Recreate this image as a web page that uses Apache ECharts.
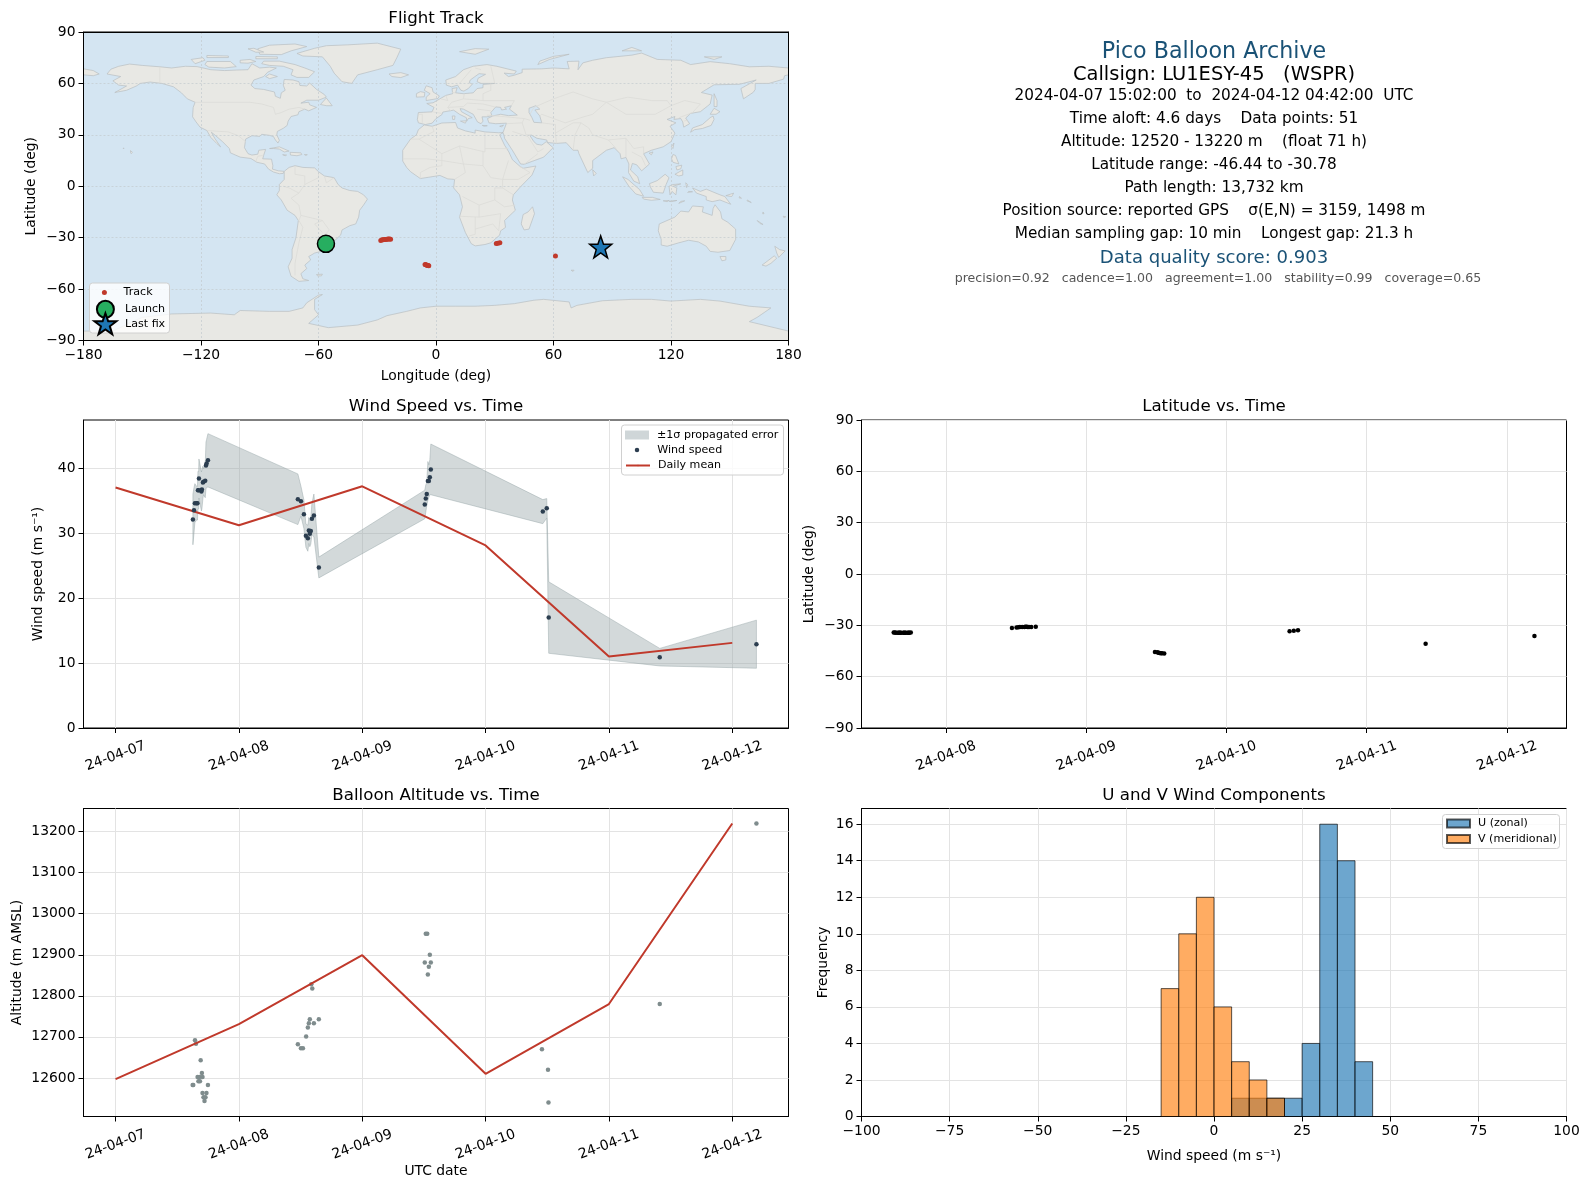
<!DOCTYPE html>
<html><head><meta charset="utf-8">
<style>html,body{margin:0;padding:0;background:#fff}#c{width:1589px;height:1189px}</style>
<script src="https://cdn.jsdelivr.net/npm/echarts@6/dist/echarts.min.js"></script>
</head><body><div id="c"></div>
<script>
// ---------- chart data (days since 2024-04-07 00:00 UTC) ----------
const dateLabels = {0:'24-04-07',1:'24-04-08',2:'24-04-09',3:'24-04-10',4:'24-04-11',5:'24-04-12'};
const dailyDays = [0,1,2,3,4,5];
const dailyWind = [37.0,31.2,37.2,28.1,11.0,13.1];
const dailyAlt = [12597,12731,12899,12610,12780,13220];

const windT = [.627,.636,.643,.656,.664,.668,.674,.676,.696,.700,.708,.713,.727,.733,.738,.749,
  1.478,1.503,1.527,1.543,1.559,1.567,1.575,1.583,1.592,1.608,1.648,
  2.507,2.515,2.523,2.532,2.540,2.548,2.556,3.464,3.496,3.512,4.412,5.196];
const windV = [32.1,33.5,34.6,34.6,34.6,36.6,36.6,38.4,36.4,36.7,37.8,37.9,38.05,40.4,40.7,41.2,
  35.2,34.9,32.9,29.6,29.2,30.4,29.9,30.3,32.2,32.7,24.7,
  34.4,35.3,36.0,38.0,38.0,38.6,39.8,33.3,33.8,17.0,10.9,12.9];
const windSigma = [3.9,3.5,3.0,2.6,2.6,2.9,2.9,3.0,3.0,3.0,2.5,2.0,2.6,3.6,3.7,4.1,
  3.9,2.3,2.2,1.8,2.0,2.0,2.0,2.0,2.4,3.3,1.6,
  2.2,2.1,1.8,3.0,2.5,2.7,3.9,1.85,1.5,5.5,1.35,3.7];

const altT = [.625,.630,.644,.652,.665,.672,.680,.684,.690,.700,.705,.705,.713,.721,.729,.737,.749,
  1.478,1.503,1.519,1.545,1.559,1.567,1.575,1.587,1.595,1.608,1.648,
  2.507,2.515,2.527,2.532,2.540,2.548,2.556,3.457,3.506,3.510,4.412,5.196];
const altV = [12583,12583,12692,12683,12602,12592,12602,12592,12643,12612,12602,12563,12553,12544,12553,12563,12583,
  12682,12672,12672,12701,12723,12733,12743,12828,12818,12733,12743,
  12881,12951,12951,12852,12871,12900,12881,12670,12620,12540,12780,13220];

const latT = [.627,.636,.643,.656,.664,.668,.674,.680,.696,.700,.708,.713,.727,.733,.738,.749,
  1.470,1.503,1.515,1.527,1.543,1.559,1.567,1.575,1.583,1.592,1.608,1.640,
  2.490,2.507,2.515,2.523,2.532,2.540,2.556,3.450,3.480,3.510,4.420,5.196];
const latV = [-34.2,-34.2,-34.3,-34.3,-34.3,-34.3,-34.3,-34.3,-34.3,-34.3,-34.3,-34.3,-34.3,-34.3,-34.3,-34.2,
  -31.5,-31.2,-31.1,-31.0,-31.0,-31.0,-30.9,-30.9,-31.0,-31.0,-31.0,-30.9,
  -45.6,-45.8,-46.0,-46.1,-46.3,-46.3,-46.44,-33.4,-33.2,-32.9,-40.7,-36.2];

const trackLon = [-54.0,-53.6,-53.2,-52.9, -28.2,-27.5,-27.0,-26.3,-25.6,-25.0,-24.4,-23.8,-23.2,
  -5.6,-5.2,-4.8,-4.4,-4.0,-3.7, 30.8,31.6,32.6, 61.0];
const trackLat = [-34.0,-34.2,-34.4,-34.5, -31.6,-31.2,-31.2,-31.0,-31.0,-30.9,-30.8,-30.8,-30.9,
  -45.6,-45.8,-46.0,-46.2,-46.3,-46.44, -33.4,-33.2,-32.9, -40.7];
const launchPoint = [-56.2,-33.6];
const lastFixPoint = [84.1,-35.4];

const histEdgesU = [5,10,15,20,25,30,35,40];
const histCountsU = [1,1,1,1,4,16,14,3];
const histEdgesV = [-15,-10,-5,0,5,10,15];
const histCountsV = [7,10,12,6,3,2,1];
const histBinWidth = 5;

const infoTitle = 'Pico Balloon Archive';
const infoCall = 'Callsign: LU1ESY-45   (WSPR)';
const infoLines = ['2024-04-07 15:02:00  to  2024-04-12 04:42:00  UTC',
 'Time aloft: 4.6 days    Data points: 51',
 'Altitude: 12520 - 13220 m    (float 71 h)',
 'Latitude range: -46.44 to -30.78',
 'Path length: 13,732 km',
 'Position source: reported GPS    σ(E,N) = 3159, 1498 m',
 'Median sampling gap: 10 min    Longest gap: 21.3 h'];
const infoScore = 'Data quality score: 0.903';
const infoSub = 'precision=0.92   cadence=1.00   agreement=1.00   stability=0.99   coverage=0.65';

// ---------- basemap (lon, lat) ----------
const landPolygons = [
 // North America
 [[-168,65.5],[-166,68.3],[-162,70],[-156.5,71.3],[-150,70.5],[-141,69.7],[-135,69],[-128,70],[-122,69.8],[-115,68],[-108,67.5],[-102,67.8],[-96,68],[-94,71.5],[-90,69],[-85,69.5],[-81.5,69],[-86,66.5],[-88,64],[-93,62],[-94.5,59],[-92.5,57],[-88,56.5],[-82.5,55],[-82,52.5],[-79.5,51.3],[-79,54.5],[-77,56],[-78,59],[-77.5,62.3],[-73,62],[-70,61],[-69.5,58.8],[-66,58.5],[-64.5,60.2],[-61,56.5],[-57,53.5],[-56,52],[-60,50.2],[-66,50.2],[-69,48.5],[-65,49],[-64.5,47.5],[-61,46],[-65,44],[-67,45],[-70,43.5],[-70.5,41.7],[-74,40.7],[-75.5,38],[-76,35.5],[-78,33.8],[-81,32],[-81.3,30],[-80,26.8],[-80.7,25.2],[-82,27],[-83,29],[-85,29.7],[-89,30.3],[-90,29.1],[-94,29.5],[-97.2,27.5],[-97.8,22.5],[-96,19],[-94,18.2],[-91,18.7],[-90.5,21],[-87,21.5],[-88,18],[-88.5,16],[-84,15.8],[-83.3,12],[-83.5,10],[-80.5,9],[-77.5,8.7],[-78,7.5],[-80,7.3],[-83,8.3],[-85.5,10],[-87.5,13],[-91.5,14],[-94.5,16.2],[-100,17],[-105,19.5],[-105.5,22],[-109,26],[-112.5,29.5],[-114.7,31.5],[-113,28],[-110,23],[-112,25],[-115,28.5],[-117,32.5],[-120.5,34.5],[-122.5,37.5],[-124.3,40.5],[-124,46],[-123,49],[-127,51],[-130,54.5],[-134,58],[-140,60],[-146,60.8],[-151,60],[-153,58.5],[-158,56],[-164,54.7],[-158,58.5],[-162,59],[-165,61.5],[-161,64],[-168,65.5]],
 // Arctic Canada
 [[-80,73],[-72,71],[-67,69],[-62,66.8],[-65,63.5],[-71,63.5],[-74,65],[-73,68],[-78,70],[-85,70.5],[-89,71.5],[-88,73]],
 [[-117,72.8],[-105,72.8],[-102,69.8],[-108,69],[-116,69.5],[-118,71]],
 [[-125,74],[-119,75],[-118,73.5],[-123,71.5]],
 [[-90,77],[-79,76.8],[-74,79],[-66,81.5],[-72,83],[-85,82.3],[-91,80.2]],
 [[-92,75.7],[-81,75.5],[-81,74.4],[-92,74.4]],
 [[-117,76.3],[-106,76],[-106,75.1],[-117,75.1]],
 [[-96,80.2],[-93,80.5],[-88,78.3],[-92,78.2]],
 [[-100,73.5],[-95,74],[-92,72.8],[-96,71.8],[-100,72]],
 [[-85,65.5],[-81,64],[-85,62.8],[-87,64]],
 [[-59,47.7],[-56,51.5],[-53,47],[-56,47]],
 // Greenland
 [[-71,77.5],[-68,76],[-58,75.5],[-54,70],[-52,66],[-48,61],[-43,60],[-40,65],[-30,68],[-22,70.5],[-20,75],[-18,80],[-30,83.5],[-45,82.5],[-56,82],[-62,80.5]],
 // Caribbean
 [[-85,22],[-80,23],[-75,20.5],[-77.5,20],[-80,21.7],[-83,22]],
 [[-74.5,19.8],[-69,19.5],[-68.5,18.5],[-71,17.8],[-74.3,18.2]],
 [[-78.3,18.4],[-76.3,18.2],[-77,17.8]],
 [[-67.2,18.5],[-65.7,18.4],[-66.5,18]],
 [[-156,20.8],[-155,19.8],[-155.7,19],[-156,19.7]],
 [[-159.8,22.2],[-159.3,22.2],[-159.5,21.8]],
 // South America
 [[-77.5,8.7],[-75,11],[-72,12],[-68,11],[-62,10.7],[-60,8.5],[-57,6],[-52,5],[-50,1],[-48,-1],[-44,-2.5],[-40,-3],[-37,-5],[-35,-7.5],[-37,-11],[-39,-14],[-39.5,-18],[-41,-22],[-44,-23],[-48,-25.5],[-48.7,-28.5],[-52,-32],[-54,-34.5],[-57.5,-34.5],[-57,-37.5],[-62,-39],[-65,-41],[-64,-43],[-67,-46],[-66,-48],[-69,-51],[-68,-54],[-65,-55],[-70,-55.5],[-74,-52.5],[-75.5,-47],[-73.5,-42],[-73.5,-37],[-71.5,-30],[-70.3,-20],[-72,-17],[-76,-14],[-79,-8],[-81.3,-5],[-80,-2.5],[-80,1],[-77.5,4],[-77.5,7]],
 [[-61,-51.5],[-58,-51.3],[-58.5,-52.3],[-60.5,-52.3]],
 // Africa
 [[-17,14.7],[-17,21],[-13,27.5],[-10,30],[-9,33],[-6,35.8],[-2,35],[3,36.9],[10,37.2],[11,34],[15,32.3],[20,31],[20,32.8],[25,31.7],[32,31.2],[34.2,31.3],[32.5,30],[35,24],[37.2,20],[39,15.5],[43,11.5],[44.5,10.5],[51,11.8],[49,6.5],[43,-0.5],[39.5,-5],[39,-8],[40.5,-14],[35,-20],[35.5,-24],[33,-26],[32.5,-28.5],[28,-33],[25,-34],[20,-34.8],[18,-33.5],[15,-27],[12,-18],[13.5,-12],[12,-5],[9,-1],[9.5,4],[6,4.3],[2,6.3],[-4,5.2],[-8,4.5],[-13,8.5],[-15,11]],
 [[49.3,-12],[50.3,-16],[47.5,-25],[45,-25.5],[43.5,-22],[44.5,-16.5],[47,-15]],
 // Eurasia
 [[-9,37],[-9.5,39],[-9,43],[-2,43.4],[-1,46],[-4.7,48.3],[-1.5,48.7],[2,51],[5,53],[8.5,54],[8.2,57],[10.8,57.5],[10,54.5],[14,54],[19,54.5],[21,57],[24,57.5],[24,59.4],[30,60],[23,60],[21,61],[21.5,63],[25.3,65.3],[22,65.7],[17.5,62],[17,60.5],[18.5,59.5],[16.5,57],[14.2,55.5],[12.7,56],[11,59],[8,58],[5.3,59],[5,62],[10,64],[14,68],[19,70],[26,71],[31,70],[41,67.2],[40,65.5],[34.8,66],[37,64],[40,64.8],[44,66.3],[44,68.3],[54,68.5],[60,69],[68,68.5],[67,72.8],[73,73],[72.5,68],[75,72],[80,73.5],[87,75],[100,76.5],[105,77.7],[113,74],[125,73.5],[130,71],[140,72.7],[150,71.5],[160,69.7],[170,70],[180,69],[180,65],[178,64.5],[177.5,62.5],[170,60],[163,60],[163,56.5],[162,54.8],[157,51],[155.7,57],[163.5,62],[155,59.5],[142,59.2],[135.5,54.7],[141,53.2],[140,48],[135,43.5],[130,42.5],[127.5,39.8],[129.5,36.5],[126.5,34.5],[126,37.5],[125,39.5],[121.5,39],[122,40.7],[118,39],[122.5,37],[119.5,35],[122,31],[120,26],[116,23],[110,21],[106,19],[109,13],[105,9],[102.5,12.5],[100.3,13.3],[99.3,9.5],[103,5.5],[104,1.5],[101,3],[98.3,8],[98.5,13],[97,16.8],[94.5,16],[94,19],[91,22.5],[87,21],[80,15],[80,10.5],[77.5,8],[73,19],[72.5,21],[70,21],[68,23.5],[66.5,25.4],[61.5,25],[57,25.5],[56.5,27],[51.5,28],[48.5,30],[48,29.5],[50,26],[51.5,24.5],[54,24],[56.3,26],[59.8,22.5],[55,17],[45,12.8],[43.2,13],[39,21],[35,28],[34.8,29.5],[34.2,31.3],[36,36.8],[30.5,36.5],[27,37],[26.3,39.5],[29,41],[33,42],[37,41.2],[41.5,41.5],[37.5,45],[38.5,47],[35,46],[36,45],[33.5,44.5],[33,46],[30.5,46.3],[28,43],[28.5,41.2],[26,40.5],[23.5,40.5],[24,38],[23,36.5],[21.2,37.5],[19.5,41],[19,42],[14,45],[12.3,45.3],[13,43.5],[18.5,40],[16.5,39.5],[15.7,38],[15.5,40],[12,42],[9,44.4],[3.5,43.3],[3,41.8],[0,39.5],[-2,36.8],[-5.5,36]],
 [[-180,65],[-175,64.5],[-172,65.5],[-175,67.5],[-180,68.5]],
 // European & Arctic islands
 [[-5,50],[1,51.2],[1.7,52.7],[-1.5,55],[-2,57.5],[-5,58.6],[-6,56],[-3,54],[-5,52]],
 [[-10,52],[-6,52.2],[-5.7,54.7],[-8,55.2],[-10,54]],
 [[-24,65.5],[-18,66.3],[-14,65],[-18,63.4],[-22.5,64]],
 [[12,78.5],[20,80.3],[27,80],[20,77]],
 [[52,71],[58,74],[68,77],[60,75.8],[53,73]],
 [[95,79],[105,79],[100,81]],
 [[137,75.5],[146,75.5],[142,74]],
 [[12.5,38],[15.5,38.2],[15,36.8]],
 [[8.3,41],[9.7,41],[9.5,39],[8.5,39]],
 [[23.6,35.5],[26.2,35.3],[24.5,35]],
 [[32.5,35],[34.5,35.6],[33.5,34.7]],
 // East and South-East Asia
 [[142,54],[143.5,50],[143.5,46.5],[142,46.5],[142,50]],
 [[130,31.5],[131,34],[136,36],[140,40],[141.5,41],[142,39],[140.5,35.5],[136,33.7],[132,33]],
 [[140,42],[142,45.5],[145,43.5],[143,42]],
 [[120.2,23],[121.5,25.2],[121,22]],
 [[108.8,19.3],[110.8,20],[110,18.3]],
 [[120.3,16],[121,18.5],[122.3,18],[124,13],[121,14]],
 [[122,7],[126,9.5],[126,6.5],[124,6]],
 [[122.5,11.5],[125.5,12.3],[125,10.2],[123,9.5]],
 [[109,1.5],[113,3.3],[117,7],[119,5],[117.5,1],[116,-4],[111,-3.5],[109.5,-0.5]],
 [[95.3,5.5],[98,4],[104,-2],[106,-5.8],[102,-4.5],[98.5,0]],
 [[105.3,-6.5],[110.5,-6.5],[114.5,-7.7],[110,-8.2],[106,-7.5]],
 [[119.5,-5],[119,0],[121,1],[125,1.4],[121,0],[123,-1],[122.5,-5],[120.5,-3]],
 [[127.5,2],[128.5,1],[128,-0.8]],
 [[116,-8.5],[119,-8.3],[118,-9]],
 [[119,-8.7],[123,-8.3],[120,-9]],
 [[124,-10],[127,-8.5],[125,-8.8]],
 [[129,-3],[131,-3.2],[128.5,-3.6]],
 [[131,-1],[135,-3],[138,-1.7],[145,-5],[147.5,-6],[150.5,-10.5],[145,-8],[141,-9],[138,-8],[138,-6],[133,-4]],
 [[148,-5.5],[152,-4],[151,-6]],
 [[155,-6],[156,-7],[154.8,-6.8]],
 [[159,-8],[161,-9.5],[158.8,-8.5]],
 [[80,9.7],[81.8,7.5],[80.5,6]],
 // Oceania
 [[114,-22],[113.5,-26],[115,-31],[115,-34.3],[118,-35],[124,-33],[129,-31.5],[134,-32.5],[138,-35],[140,-38],[144,-38.5],[150,-37.5],[153,-31],[153,-25],[149,-21],[146,-19],[145.3,-15],[142.5,-10.8],[141.5,-13],[141,-17],[136,-15],[136.5,-12],[131,-11.5],[129,-15],[125,-14.5],[122,-18],[117,-20.5]],
 [[145,-41],[148,-41],[148,-43],[146,-43.5]],
 [[173,-35],[175.5,-37],[178.3,-37.7],[175,-41.5],[174,-39]],
 [[172.7,-40.6],[174,-42],[171,-45],[168.5,-46.6],[166.5,-46],[170,-43]],
 [[164,-20],[167,-22.3],[165.5,-21.8]],
 [[167,-15],[167.5,-16],[166.8,-16]],
 [[177.3,-17.5],[178.6,-17.8],[177.6,-18.3]],
 [[69,-49],[70.5,-49],[70,-49.7]],
 // Antarctica
 [[-180,-90],[-180,-84.5],[-165,-84.5],[-155,-79],[-150,-76.5],[-135,-74.5],[-115,-74],[-103,-75],[-100,-72.5],[-85,-73],[-75,-73],[-68,-71],[-66,-68],[-60,-63.5],[-58,-63.2],[-62,-66],[-62,-72],[-60,-75],[-65,-80],[-55,-82.5],[-40,-81],[-30,-78],[-25,-75.5],[-15,-73],[-8,-71],[0,-70],[10,-70],[20,-70],[30,-69.5],[40,-68.5],[50,-66.5],[55,-66],[68,-67.5],[69,-71],[72,-69.5],[85,-66.8],[100,-66],[110,-66],[120,-67],[135,-66],[145,-67],[160,-70],[171,-71],[164,-76.5],[160,-79],[180,-84.5],[180,-90]]
];
const inlandSeas = [
 [[47.5,45.5],[51,47],[53,45],[50.5,44.5],[53,41],[54,37],[50,37.3],[49,40],[47.5,43]]
];
const borderLines = [
 [[-123,49],[-95,49],[-89,48],[-83,46],[-82,42],[-79,43],[-75,45],[-70,46],[-67,45]],
 [[-141,69.7],[-141,60]],[[-117,32.5],[-106,31.7],[-101,29.5],[-97.2,26]],
 [[-92,14.5],[-91,17.5],[-88.5,18]],
 [[-72,12],[-72,7],[-67,6],[-67,1],[-70,-4],[-74,-7],[-70,-11],[-69,-17],[-58,-20],[-54.5,-25.5],[-58,-30],[-53.5,-33.5]],
 [[-69,-17],[-70,-20],[-68,-24],[-70,-33],[-72,-45],[-72,-52]],[[-67,1],[-60,5],[-60,8]],[[-78,0],[-75,-1],[-70,-4]],
 [[-58,-20],[-62,-22],[-58,-27]],[[-57,6],[-56,2],[-52,5]],
 [[-13,27.5],[-8.7,27.5],[-1,32],[-2,35]],[[-8.7,27.5],[3,19],[12,23.5],[25,20],[25,31.7]],[[25,22],[37,22]],
 [[3,19],[3,12],[-3,11],[-8,8],[-8,4.5]],[[-17,16],[-5,16],[3,15],[14,13],[15,8],[9.5,4]],[[12,23.5],[14,13],[24,12],[24,20]],
 [[24,12],[28,5],[34,4],[37,15]],[[34,4],[42,4],[48,8],[43,11.5]],[[34,4],[34,-1],[30,-1],[30,-8],[22,-11],[13.5,-6]],
 [[34,-1],[39.5,-5]],[[30,-8],[35,-12],[40.5,-11]],[[22,-11],[22,-18],[12,-17.5]],[[20,-18],[20,-28],[17,-29]],[[22,-18],[33,-16],[32,-26]],[[20,-25],[29,-22],[32,-26]],
 [[5,53],[6,50],[2.5,51]],[[-1.8,43.4],[3,42.5]],[[-7,37],[-7,42],[-9,42]],[[8,49],[6,46],[7.5,44]],[[6,46],[14,46.5],[16,48.5],[24,48],[30,46.3]],[[8,54.8],[10,54.5]],[[8,49],[14,51],[14.5,54]],[[14,51],[24,50],[24,54],[28,56],[28,60]],[[24,50],[40,50],[38.5,47]],
 [[21,45],[28,44]],[[26,41.5],[45,39.5],[44,37],[36,36.5]],[[44,37],[46,30],[48,30]],[[39,32],[47,29],[52,20],[55,22]],[[45,12.8],[52,19]],
 [[45,39.5],[48,38.5]],[[54,37],[61,36],[61,31],[61.5,25]],[[61,31],[70,37],[74,37],[71,30],[70,21]],[[74,37],[78,34],[80,30],[88,27],[92,22]],[[88,27],[97,28],[101,22],[106,23],[106,19]],[[97,28],[97,17]],[[100,20],[105,17],[107,12]],
 [[30,60],[28,70]],[[23,68],[20,69]],[[12,60],[18,68]],
 [[48,42],[50,46],[60,51],[70,55],[80,51],[87,49]],[[87,49],[80,42],[74,40],[66,37],[54,42],[53,41]],[[87,49],[97,42],[112,42],[120,47],[118,50],[110,50],[98,52],[87,49]],[[120,47],[127,50],[135,48],[131,43],[130,42.5]],[[124,40],[130,42.5]],[[126.5,38],[128.5,38.5]]
];

// ---------- helpers ----------
const FONT = '"DejaVu Sans"';
const TICK = 13.89, LEG = 11.1;
const AXISC = '#000', GRIDC = '#e3e3e3';
const STAR = 'path://M12 0L14.9 8.2L23.4 8.3L16.6 13.5L19.1 21.7L12 16.8L4.9 21.7L7.4 13.5L0.6 8.3L9.1 8.2Z';
const minus = v => String(v).replace('-', '\u2212');
const grids = [
 {left:83.5, top:32, width:705, height:308.5},
 {left:83.5, top:420, width:705, height:308},
 {left:861.5, top:420, width:705, height:308},
 {left:83.5, top:808.5, width:705, height:308},
 {left:861.5, top:808.5, width:705, height:308}
].map((g,i)=>Object.assign(g,{show:true,borderColor:'#000',borderWidth:1,backgroundColor:i===0?'#d4e5f2':'#fff'}));
const axisCommon = {
 z:1, axisLine:{show:true,onZero:false,lineStyle:{color:AXISC,width:1}},
 axisTick:{show:true,length:5,lineStyle:{color:AXISC,width:1}},
 axisLabel:{color:'#000',fontFamily:FONT,fontSize:TICK,margin:8},
 nameTextStyle:{color:'#000',fontFamily:FONT,fontSize:TICK},
 splitLine:{show:true,lineStyle:{color:GRIDC,width:1}}
};
function merge(a,b){const o=Object.assign({},a,b);['axisTick','axisLabel','splitLine','axisLine','nameTextStyle'].forEach(k=>{if(b[k])o[k]=Object.assign({},a[k],b[k]);});return o;}
function dayAxis(gi,min,max,ticks,name){
 return merge(axisCommon,{type:'value',gridIndex:gi,min,max,name:name||'',nameLocation:'middle',nameGap:48,
  axisTick:{customValues:ticks},
  axisLabel:{customValues:ticks,rotate:20,align:'center',verticalAlign:'middle',margin:28,hideOverlap:false,formatter:v=>dateLabels[v]}});
}
function customY(gi,min,max,ticks,name,gap){
 return merge(axisCommon,{type:'value',gridIndex:gi,min,max,name,nameLocation:'middle',nameGap:gap,
  axisTick:{customValues:ticks},axisLabel:{customValues:ticks,formatter:v=>minus(v)}});
}
const mapDash = {show:true,lineStyle:{color:'#c4cbcf',width:0.7,type:[2,2]}};
const xAxes = [
 merge(axisCommon,{type:'value',gridIndex:0,min:-180,max:180,interval:60,name:'Longitude (deg)',nameLocation:'middle',nameGap:28.5,splitLine:mapDash,axisLabel:{formatter:v=>minus(v),hideOverlap:false,showMinLabel:true,showMaxLabel:true}}),
 dayAxis(1,-0.26,5.456,[0,1,2,3,4,5]),
 dayAxis(2,0.3975,5.4245,[1,2,3,4,5]),
 dayAxis(3,-0.26,5.456,[0,1,2,3,4,5],'UTC date'),
 merge(axisCommon,{type:'value',gridIndex:4,min:-100,max:100,interval:25,name:'Wind speed (m s\u207B\u00B9)',nameLocation:'middle',nameGap:32.5,axisLabel:{formatter:v=>minus(v),hideOverlap:false}}),
 // top spine of the map
 {type:'value',gridIndex:0,min:-180,max:180,position:'top',z:3,axisLine:{show:true,onZero:false,lineStyle:{color:'#000',width:1}},axisTick:{show:false},axisLabel:{show:false},splitLine:{show:false}}
];
const yAxes = [
 merge(axisCommon,{type:'value',gridIndex:0,min:-90,max:90,interval:30,name:'Latitude (deg)',nameLocation:'middle',nameGap:45,splitLine:mapDash,axisLabel:{formatter:v=>minus(v),hideOverlap:false}}),
 customY(1,0,47.4,[0,10,20,30,40],'Wind speed (m s\u207B\u00B9)',38),
 merge(axisCommon,{type:'value',gridIndex:2,min:-90,max:90,interval:30,name:'Latitude (deg)',nameLocation:'middle',nameGap:45,axisLabel:{formatter:v=>minus(v),hideOverlap:false}}),
 customY(3,12506,13256.4,[12600,12700,12800,12900,13000,13100,13200],'Altitude (m AMSL)',59),
 customY(4,0,16.86,[0,2,4,6,8,10,12,14,16],'Frequency',31),
 // right spine of the map
 {type:'value',gridIndex:0,min:-90,max:90,position:'right',z:3,axisLine:{show:true,onZero:false,lineStyle:{color:'#000',width:1}},axisTick:{show:false},axisLabel:{show:false},splitLine:{show:false}}
];
const titles = [['Flight Track',436,19],['Wind Speed vs. Time',436,407],['Latitude vs. Time',1214,407],['Balloon Altitude vs. Time',436,796],['U and V Wind Components',1214,796]]
 .map(([text,x,y])=>({text,left:x,top:y-10,textAlign:'center',padding:0,textStyle:{fontFamily:FONT,fontSize:16.67,fontWeight:'normal',color:'#000',lineHeight:20}}));

function zipXY(a,b){return a.map((x,i)=>[x,b[i]]);}
function polyItem(polys,style){
 return function(params,api){
  const pts = polys[params.dataIndex].map(p=>api.coord(p));
  return {type:'polygon',shape:{points:pts},style};
 };
}
function histItem(style){
 return function(params,api){
  const lo=api.value(0),hi=api.value(1),c=api.value(2);
  const a=api.coord([lo,c]),b=api.coord([hi,0]);
  return {type:'rect',shape:{x:a[0],y:a[1],width:b[0]-a[0],height:b[1]-a[1]},style};
 };
}
function bandItem(params,api){
 if(params.dataIndex!==0) return null;
 const up=windT.map((t,i)=>api.coord([t,windV[i]+windSigma[i]]));
 const lo=windT.map((t,i)=>api.coord([t,windV[i]-windSigma[i]])).reverse();
 return {type:'polygon',shape:{points:up.concat(lo)},style:{fill:'rgba(149,165,166,0.42)',stroke:'rgba(149,165,166,0.45)',lineWidth:1}};
}
const BLUE='rgba(31,119,180,0.65)',ORANGE='rgba(255,127,14,0.65)',EDGE='rgba(0,0,0,0.65)';
const series = [
 {type:'custom',name:'land',coordinateSystem:'cartesian2d',xAxisIndex:0,yAxisIndex:0,z:0,clip:true,silent:true,
  data:landPolygons.map((p,i)=>[p[0][0],p[0][1],i]),renderItem:polyItem(landPolygons,{fill:'#e8e8e4',stroke:'#b9bfc2',lineWidth:0.7})},
 {type:'custom',name:'inland',coordinateSystem:'cartesian2d',xAxisIndex:0,yAxisIndex:0,z:0,clip:true,silent:true,
  data:inlandSeas.map((p,i)=>[p[0][0],p[0][1],i]),renderItem:polyItem(inlandSeas,{fill:'#d4e5f2',stroke:'#b9bfc2',lineWidth:0.7})},
 {type:'custom',name:'borders',coordinateSystem:'cartesian2d',xAxisIndex:0,yAxisIndex:0,z:0,clip:true,silent:true,
  data:borderLines.map((p,i)=>[p[0][0],p[0][1],i]),renderItem:(params,api)=>({type:'polyline',shape:{points:borderLines[params.dataIndex].map(p=>api.coord(p))},style:{fill:'none',stroke:'#dcdcd8',lineWidth:0.8}})},
 {type:'scatter',name:'Track',xAxisIndex:0,yAxisIndex:0,z:3,symbolSize:5,itemStyle:{color:'#c0392b',opacity:1},data:zipXY(trackLon,trackLat)},
 {type:'scatter',name:'Launch',xAxisIndex:0,yAxisIndex:0,z:4,symbolSize:17,itemStyle:{color:'#27ae60',borderColor:'#000',borderWidth:1.5,opacity:1},data:[launchPoint]},
 {type:'scatter',name:'Last fix',xAxisIndex:0,yAxisIndex:0,z:4,symbol:STAR,symbolSize:22,itemStyle:{color:'#1f77b4',borderColor:'#000',borderWidth:1.5,opacity:1},data:[lastFixPoint]},

 {type:'custom',name:'\u00B11\u03C3 propagated error',coordinateSystem:'cartesian2d',xAxisIndex:1,yAxisIndex:1,z:2,clip:true,silent:true,
  itemStyle:{color:'#cfd6d8'},data:[[windT[0],windV[0]]],renderItem:bandItem},
 {type:'scatter',name:'Wind speed',xAxisIndex:1,yAxisIndex:1,z:4,symbolSize:4.5,itemStyle:{color:'#2c3e50',opacity:1},data:zipXY(windT,windV)},
 {type:'line',name:'Daily mean',xAxisIndex:1,yAxisIndex:1,z:3,symbol:'none',lineStyle:{color:'#c0392b',width:2},itemStyle:{color:'#c0392b'},data:zipXY(dailyDays,dailyWind)},

 {type:'scatter',name:'Latitude',xAxisIndex:2,yAxisIndex:2,z:3,symbolSize:4.5,itemStyle:{color:'#000',opacity:1},data:zipXY(latT,latV)},

 {type:'scatter',name:'Altitude',xAxisIndex:3,yAxisIndex:3,z:3,symbolSize:4.5,itemStyle:{color:'#7f8c8d',opacity:1},data:zipXY(altT,altV)},
 {type:'line',name:'Daily mean altitude',xAxisIndex:3,yAxisIndex:3,z:4,symbol:'none',lineStyle:{color:'#c0392b',width:2},data:zipXY(dailyDays,dailyAlt)},

 {type:'custom',name:'U (zonal)',coordinateSystem:'cartesian2d',xAxisIndex:4,yAxisIndex:4,z:2,clip:true,silent:true,
  itemStyle:{color:BLUE,borderColor:EDGE,borderWidth:1},encode:{x:[0,1],y:2},
  data:histEdgesU.map((e,i)=>[e,e+histBinWidth,histCountsU[i]]),renderItem:histItem({fill:BLUE,stroke:EDGE,lineWidth:1})},
 {type:'custom',name:'V (meridional)',coordinateSystem:'cartesian2d',xAxisIndex:4,yAxisIndex:4,z:3,clip:true,silent:true,
  itemStyle:{color:ORANGE,borderColor:EDGE,borderWidth:1},encode:{x:[0,1],y:2},
  data:histEdgesV.map((e,i)=>[e,e+histBinWidth,histCountsV[i]]),renderItem:histItem({fill:ORANGE,stroke:EDGE,lineWidth:1})}
];

// legends: each row is one legend component so that its key has its own size
function legendRow(name,left,cy,w,h,gapPad,icon){
 const rowH=Math.max(h,13);
 const item=icon?{name,icon}:{name};
 return {show:true,data:[item],left,top:cy-rowH/2,padding:0,itemWidth:w,itemHeight:h,selectedMode:false,z:6,
  textStyle:{fontFamily:FONT,fontSize:LEG,color:'#000',padding:[0,0,0,gapPad||0]}};
}
const legends = [
 legendRow('Track',101.9,293.5,5,5,11.7),
 legendRow('Launch',95.9,308.3,17,17,6),
 legendRow('Last fix',93.4,323.3,22,22,3.6),
 legendRow('\u00B11\u03C3 propagated error',625,436,24,9,3,'rect'),
 legendRow('Wind speed',634.75,451,4.5,4.5,13),
 legendRow('Daily mean',625,466.5,24,2,3),
 legendRow('U (zonal)',1446,824.5,23,8,3,'rect'),
 legendRow('V (meridional)',1446,840,23,8,3,'rect')
];
const box=(x,y,w,h)=>({type:'rect',z:5,silent:true,shape:{x,y,width:w,height:h,r:3},style:{fill:'rgba(255,255,255,0.8)',stroke:'#d0d0d0',lineWidth:1}});
const txt=(text,y,size,fill,x)=>({type:'text',z:5,silent:true,x:x||1214,y,style:{text,x:0,y:0,align:'center',verticalAlign:'middle',fontFamily:FONT,fontSize:size,fill}});
const infoYs=[96,119,142,165,188,211,234];
const graphic=[
 box(89.5,283,80,50), box(621.5,425,162,50), box(1442.5,814.5,117,34),
 txt(infoTitle,52.5,22.2,'#1a5276'),
 txt(infoCall,75,19.44,'#000'),
 ...infoLines.map((t,i)=>txt(t,infoYs[i],15.28,'#000')),
 txt(infoScore,258.7,18.06,'#1a5276'),
 txt(infoSub,278.5,12.55,'#555',1218)
];

const chart = echarts.init(document.getElementById('c'),null,{renderer:'canvas',width:1589,height:1189});
chart.setOption({animation:false,backgroundColor:'#fff',grid:grids,xAxis:xAxes,yAxis:yAxes,title:titles,legend:legends,series,graphic,tooltip:{show:false}});
</script></body></html>
